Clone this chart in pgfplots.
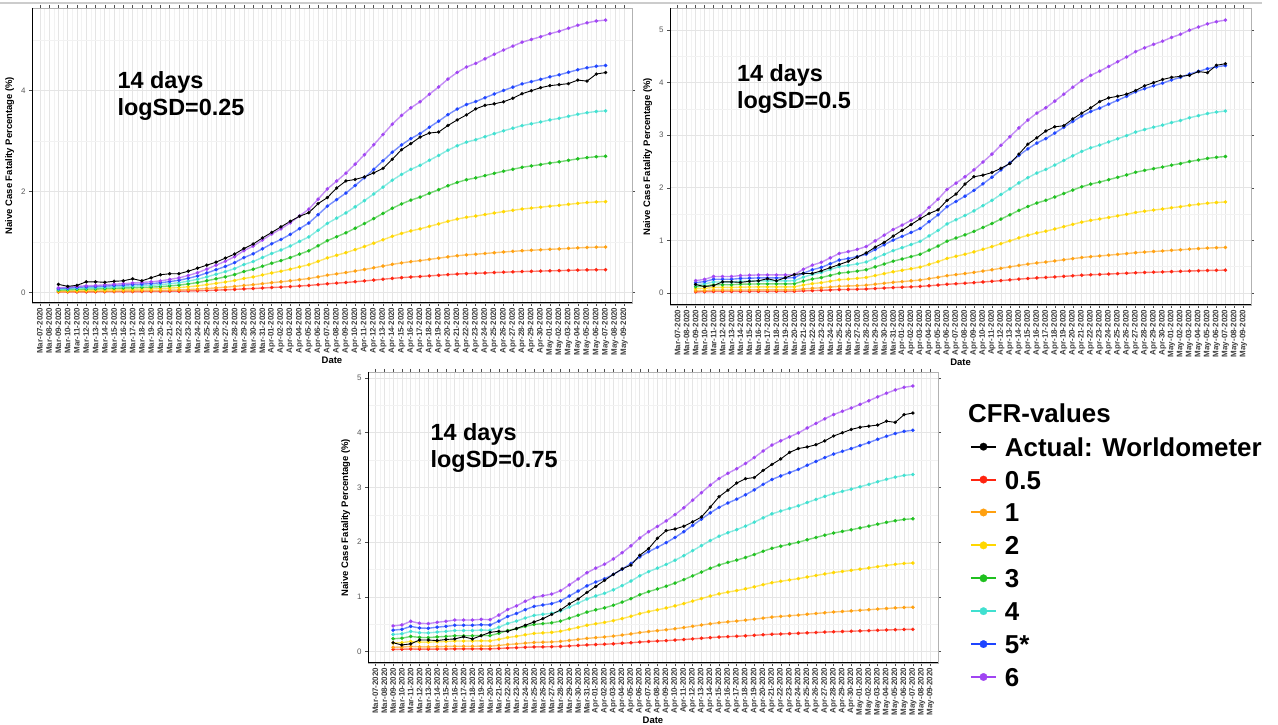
\documentclass[border=0pt]{standalone}
\usepackage{fontspec}
\setmainfont{Liberation Sans}
\usepackage{pgfplots}
\usepackage{pgfplotstable}
\pgfplotsset{compat=1.18}

\definecolor{cred}{HTML}{FF2410}
\definecolor{corange}{HTML}{FFA010}
\definecolor{cgold}{HTML}{FFD700}
\definecolor{cgreen}{HTML}{1FC01F}
\definecolor{cturq}{HTML}{40E0D0}
\definecolor{cblue}{HTML}{1E44FF}
\definecolor{cpurple}{HTML}{A044F2}

\newcommand\tickfont{\fontsize{8}{9.6}\selectfont}
\newcommand\labfont{\fontsize{9.5}{11}\selectfont\bfseries}
\newcommand\annfont{\fontsize{23.5}{27.5}\selectfont\bfseries}
\newcommand\legfont{\fontsize{26}{30}\selectfont\bfseries}

% actual CFR (Worldometer), same in every panel; x = days after Mar-07
\pgfplotstableread{
x a
2 0.16
3 0.12
4 0.14
5 0.21
6 0.21
7 0.20
8 0.22
9 0.23
10 0.27
11 0.23
12 0.29
13 0.35
14 0.37
15 0.37
16 0.42
17 0.48
18 0.54
19 0.60
20 0.68
21 0.76
22 0.87
23 0.96
24 1.08
25 1.19
26 1.30
27 1.41
28 1.51
29 1.58
30 1.76
31 1.88
32 2.07
33 2.21
34 2.24
35 2.29
36 2.37
37 2.46
38 2.64
39 2.83
40 2.95
41 3.08
42 3.16
43 3.18
44 3.31
45 3.42
46 3.52
47 3.64
48 3.71
49 3.74
50 3.78
51 3.85
52 3.94
53 4.00
54 4.06
55 4.10
56 4.12
57 4.14
58 4.21
59 4.19
60 4.33
61 4.36
}\actual

% logSD = 0.25
\pgfplotstableread{
x r o y g c b p
2 0.008 0.015 0.030 0.045 0.060 0.075 0.090
3 0.009 0.017 0.034 0.051 0.068 0.085 0.102
4 0.010 0.020 0.040 0.060 0.080 0.100 0.120
5 0.011 0.022 0.044 0.066 0.088 0.110 0.132
6 0.012 0.023 0.046 0.069 0.092 0.115 0.138
7 0.013 0.025 0.050 0.075 0.100 0.125 0.150
8 0.014 0.027 0.054 0.081 0.108 0.135 0.162
9 0.015 0.029 0.058 0.087 0.116 0.145 0.174
10 0.016 0.031 0.062 0.093 0.124 0.155 0.186
11 0.017 0.033 0.066 0.099 0.132 0.165 0.198
12 0.018 0.035 0.070 0.105 0.140 0.175 0.210
13 0.019 0.038 0.076 0.114 0.152 0.190 0.228
14 0.022 0.043 0.086 0.129 0.172 0.215 0.258
15 0.024 0.048 0.096 0.144 0.192 0.240 0.288
16 0.028 0.056 0.112 0.168 0.224 0.280 0.336
17 0.033 0.065 0.130 0.195 0.260 0.325 0.390
18 0.039 0.077 0.154 0.231 0.308 0.385 0.462
19 0.045 0.090 0.180 0.270 0.360 0.450 0.540
20 0.052 0.103 0.206 0.309 0.412 0.515 0.618
21 0.059 0.118 0.236 0.354 0.472 0.590 0.708
22 0.069 0.138 0.276 0.414 0.552 0.690 0.828
23 0.077 0.153 0.306 0.459 0.612 0.765 0.918
24 0.087 0.173 0.346 0.519 0.692 0.865 1.038
25 0.097 0.193 0.386 0.579 0.772 0.965 1.158
26 0.105 0.210 0.420 0.630 0.840 1.050 1.260
27 0.115 0.230 0.460 0.690 0.920 1.150 1.380
28 0.127 0.253 0.506 0.759 1.012 1.265 1.518
29 0.138 0.275 0.550 0.825 1.100 1.375 1.650
30 0.154 0.308 0.616 0.924 1.232 1.540 1.848
31 0.171 0.342 0.684 1.026 1.368 1.710 2.052
32 0.184 0.368 0.736 1.104 1.472 1.840 2.208
33 0.197 0.394 0.788 1.182 1.576 1.970 2.364
34 0.212 0.424 0.848 1.272 1.696 2.120 2.544
35 0.228 0.455 0.910 1.365 1.820 2.275 2.730
36 0.244 0.488 0.976 1.464 1.952 2.440 2.928
37 0.261 0.522 1.044 1.566 2.088 2.610 3.132
38 0.278 0.556 1.112 1.668 2.224 2.780 3.336
39 0.293 0.585 1.170 1.755 2.340 2.925 3.510
40 0.305 0.610 1.220 1.830 2.440 3.050 3.660
41 0.315 0.630 1.260 1.890 2.520 3.150 3.780
42 0.328 0.655 1.310 1.965 2.620 3.275 3.930
43 0.340 0.679 1.358 2.037 2.716 3.395 4.074
44 0.353 0.705 1.410 2.115 2.820 3.525 4.230
45 0.364 0.727 1.454 2.181 2.908 3.635 4.362
46 0.373 0.745 1.490 2.235 2.980 3.725 4.470
47 0.379 0.757 1.514 2.271 3.028 3.785 4.542
48 0.386 0.772 1.544 2.316 3.088 3.860 4.632
49 0.394 0.787 1.574 2.361 3.148 3.935 4.722
50 0.401 0.801 1.602 2.403 3.204 4.005 4.806
51 0.407 0.814 1.628 2.442 3.256 4.070 4.884
52 0.414 0.827 1.654 2.481 3.308 4.135 4.962
53 0.418 0.836 1.672 2.508 3.344 4.180 5.016
54 0.423 0.845 1.690 2.535 3.380 4.225 5.070
55 0.428 0.855 1.710 2.565 3.420 4.275 5.130
56 0.432 0.863 1.726 2.589 3.452 4.315 5.178
57 0.437 0.873 1.746 2.619 3.492 4.365 5.238
58 0.442 0.883 1.766 2.649 3.532 4.415 5.298
59 0.446 0.891 1.782 2.673 3.564 4.455 5.346
60 0.449 0.897 1.794 2.691 3.588 4.485 5.382
61 0.450 0.900 1.800 2.700 3.600 4.500 5.400
}\tabA

% logSD = 0.5
\pgfplotstableread{
x r o y g c b p
2 0.020 0.039 0.078 0.117 0.156 0.195 0.234
3 0.022 0.043 0.086 0.129 0.172 0.215 0.258
4 0.026 0.052 0.104 0.156 0.208 0.260 0.312
5 0.026 0.052 0.104 0.156 0.208 0.260 0.312
6 0.026 0.052 0.104 0.156 0.208 0.260 0.312
7 0.028 0.055 0.110 0.165 0.220 0.275 0.330
8 0.028 0.056 0.112 0.168 0.224 0.280 0.336
9 0.029 0.057 0.114 0.171 0.228 0.285 0.342
10 0.029 0.057 0.114 0.171 0.228 0.285 0.342
11 0.029 0.057 0.114 0.171 0.228 0.285 0.342
12 0.029 0.057 0.114 0.171 0.228 0.285 0.342
13 0.029 0.058 0.116 0.174 0.232 0.290 0.348
14 0.038 0.075 0.150 0.225 0.300 0.375 0.450
15 0.044 0.088 0.176 0.264 0.352 0.440 0.528
16 0.049 0.097 0.194 0.291 0.388 0.485 0.582
17 0.056 0.111 0.222 0.333 0.444 0.555 0.666
18 0.063 0.125 0.250 0.375 0.500 0.625 0.750
19 0.066 0.131 0.262 0.393 0.524 0.655 0.786
20 0.069 0.138 0.276 0.414 0.552 0.690 0.828
21 0.074 0.147 0.294 0.441 0.588 0.735 0.882
22 0.083 0.165 0.330 0.495 0.660 0.825 0.990
23 0.092 0.183 0.366 0.549 0.732 0.915 1.098
24 0.101 0.201 0.402 0.603 0.804 1.005 1.206
25 0.108 0.215 0.430 0.645 0.860 1.075 1.290
26 0.115 0.230 0.460 0.690 0.920 1.150 1.380
27 0.123 0.245 0.490 0.735 0.980 1.225 1.470
28 0.136 0.271 0.542 0.813 1.084 1.355 1.626
29 0.149 0.297 0.594 0.891 1.188 1.485 1.782
30 0.164 0.328 0.656 0.984 1.312 1.640 1.968
31 0.174 0.348 0.696 1.044 1.392 1.740 2.088
32 0.184 0.368 0.736 1.104 1.472 1.840 2.208
33 0.195 0.390 0.780 1.170 1.560 1.950 2.340
34 0.208 0.415 0.830 1.245 1.660 2.075 2.490
35 0.220 0.440 0.880 1.320 1.760 2.200 2.640
36 0.234 0.468 0.936 1.404 1.872 2.340 2.808
37 0.248 0.495 0.990 1.485 1.980 2.475 2.970
38 0.262 0.523 1.046 1.569 2.092 2.615 3.138
39 0.274 0.548 1.096 1.644 2.192 2.740 3.288
40 0.285 0.570 1.140 1.710 2.280 2.850 3.420
41 0.294 0.587 1.174 1.761 2.348 2.935 3.522
42 0.304 0.608 1.216 1.824 2.432 3.040 3.648
43 0.315 0.630 1.260 1.890 2.520 3.150 3.780
44 0.326 0.652 1.304 1.956 2.608 3.260 3.912
45 0.337 0.673 1.346 2.019 2.692 3.365 4.038
46 0.345 0.690 1.380 2.070 2.760 3.450 4.140
47 0.352 0.703 1.406 2.109 2.812 3.515 4.218
48 0.359 0.718 1.436 2.154 2.872 3.590 4.308
49 0.367 0.733 1.466 2.199 2.932 3.665 4.398
50 0.374 0.748 1.496 2.244 2.992 3.740 4.488
51 0.383 0.765 1.530 2.295 3.060 3.825 4.590
52 0.389 0.777 1.554 2.331 3.108 3.885 4.662
53 0.394 0.788 1.576 2.364 3.152 3.940 4.728
54 0.399 0.798 1.596 2.394 3.192 3.990 4.788
55 0.405 0.810 1.620 2.430 3.240 4.050 4.860
56 0.410 0.820 1.640 2.460 3.280 4.100 4.920
57 0.417 0.833 1.666 2.499 3.332 4.165 4.998
58 0.422 0.843 1.686 2.529 3.372 4.215 5.058
59 0.427 0.853 1.706 2.559 3.412 4.265 5.118
60 0.430 0.860 1.720 2.580 3.440 4.300 5.160
61 0.433 0.865 1.730 2.595 3.460 4.325 5.190
}\tabB

% logSD = 0.75
\pgfplotstableread{
x r o y g c b p
2 0.039 0.078 0.156 0.234 0.312 0.390 0.468
3 0.041 0.081 0.162 0.243 0.324 0.405 0.486
4 0.046 0.092 0.184 0.276 0.368 0.460 0.552
5 0.043 0.086 0.172 0.258 0.344 0.430 0.516
6 0.043 0.085 0.170 0.255 0.340 0.425 0.510
7 0.045 0.089 0.178 0.267 0.356 0.445 0.534
8 0.046 0.092 0.184 0.276 0.368 0.460 0.552
9 0.048 0.096 0.192 0.288 0.384 0.480 0.576
10 0.048 0.096 0.192 0.288 0.384 0.480 0.576
11 0.048 0.096 0.192 0.288 0.384 0.480 0.576
12 0.049 0.098 0.196 0.294 0.392 0.490 0.588
13 0.049 0.097 0.194 0.291 0.388 0.485 0.582
14 0.056 0.111 0.222 0.333 0.444 0.555 0.666
15 0.064 0.128 0.256 0.384 0.512 0.640 0.768
16 0.070 0.139 0.278 0.417 0.556 0.695 0.834
17 0.077 0.153 0.306 0.459 0.612 0.765 0.918
18 0.083 0.165 0.330 0.495 0.660 0.825 0.990
19 0.085 0.170 0.340 0.510 0.680 0.850 1.020
20 0.088 0.175 0.350 0.525 0.700 0.875 1.050
21 0.093 0.185 0.370 0.555 0.740 0.925 1.110
22 0.102 0.203 0.406 0.609 0.812 1.015 1.218
23 0.111 0.221 0.442 0.663 0.884 1.105 1.326
24 0.120 0.240 0.480 0.720 0.960 1.200 1.440
25 0.127 0.254 0.508 0.762 1.016 1.270 1.524
26 0.133 0.266 0.532 0.798 1.064 1.330 1.596
27 0.141 0.282 0.564 0.846 1.128 1.410 1.692
28 0.151 0.301 0.602 0.903 1.204 1.505 1.806
29 0.161 0.322 0.644 0.966 1.288 1.610 1.932
30 0.173 0.346 0.692 1.038 1.384 1.730 2.076
31 0.183 0.365 0.730 1.095 1.460 1.825 2.190
32 0.191 0.381 0.762 1.143 1.524 1.905 2.286
33 0.199 0.398 0.796 1.194 1.592 1.990 2.388
34 0.209 0.417 0.834 1.251 1.668 2.085 2.502
35 0.219 0.438 0.876 1.314 1.752 2.190 2.628
36 0.231 0.461 0.922 1.383 1.844 2.305 2.766
37 0.242 0.484 0.968 1.452 1.936 2.420 2.904
38 0.254 0.507 1.014 1.521 2.028 2.535 3.042
39 0.264 0.527 1.054 1.581 2.108 2.635 3.162
40 0.272 0.543 1.086 1.629 2.172 2.715 3.258
41 0.279 0.557 1.114 1.671 2.228 2.785 3.342
42 0.287 0.573 1.146 1.719 2.292 2.865 3.438
43 0.296 0.591 1.182 1.773 2.364 2.955 3.546
44 0.306 0.611 1.222 1.833 2.444 3.055 3.666
45 0.315 0.629 1.258 1.887 2.516 3.145 3.774
46 0.321 0.642 1.284 1.926 2.568 3.210 3.852
47 0.327 0.654 1.308 1.962 2.616 3.270 3.924
48 0.333 0.666 1.332 1.998 2.664 3.330 3.996
49 0.341 0.681 1.362 2.043 2.724 3.405 4.086
50 0.348 0.695 1.390 2.085 2.780 3.475 4.170
51 0.355 0.709 1.418 2.127 2.836 3.545 4.254
52 0.361 0.722 1.444 2.166 2.888 3.610 4.332
53 0.366 0.732 1.464 2.196 2.928 3.660 4.392
54 0.371 0.742 1.484 2.226 2.968 3.710 4.452
55 0.377 0.753 1.506 2.259 3.012 3.765 4.518
56 0.382 0.764 1.528 2.292 3.056 3.820 4.584
57 0.388 0.776 1.552 2.328 3.104 3.880 4.656
58 0.394 0.787 1.574 2.361 3.148 3.935 4.722
59 0.399 0.797 1.594 2.391 3.188 3.985 4.782
60 0.403 0.805 1.610 2.415 3.220 4.025 4.830
61 0.405 0.809 1.618 2.427 3.236 4.045 4.854
}\tabC

\pgfplotsset{
  ser/.style={color=#1, mark=*, mark size=1.7bp, line width=1.4bp, draw opacity=0.6,
    mark options={solid, draw opacity=1, fill opacity=1, line width=0.2bp}},
  sblack/.style={color=black, mark=*, mark size=1.6bp, line width=0.9bp,
    mark options={solid, line width=0.2bp}},
  dates/.style={xticklabels={Mar-07-2020,Mar-08-2020,Mar-09-2020,Mar-10-2020,Mar-11-2020,Mar-12-2020,Mar-13-2020,Mar-14-2020,Mar-15-2020,Mar-16-2020,Mar-17-2020,Mar-18-2020,Mar-19-2020,Mar-20-2020,Mar-21-2020,Mar-22-2020,Mar-23-2020,Mar-24-2020,Mar-25-2020,Mar-26-2020,Mar-27-2020,Mar-28-2020,Mar-29-2020,Mar-30-2020,Mar-31-2020,Apr-01-2020,Apr-02-2020,Apr-03-2020,Apr-04-2020,Apr-05-2020,Apr-06-2020,Apr-07-2020,Apr-08-2020,Apr-09-2020,Apr-10-2020,Apr-11-2020,Apr-12-2020,Apr-13-2020,Apr-14-2020,Apr-15-2020,Apr-16-2020,Apr-17-2020,Apr-18-2020,Apr-19-2020,Apr-20-2020,Apr-21-2020,Apr-22-2020,Apr-23-2020,Apr-24-2020,Apr-25-2020,Apr-26-2020,Apr-27-2020,Apr-28-2020,Apr-29-2020,Apr-30-2020,May-01-2020,May-02-2020,May-03-2020,May-04-2020,May-05-2020,May-06-2020,May-07-2020,May-08-2020,May-09-2020}},
  panel/.style={
    scale only axis, anchor=south west,
    xmin=-0.85, xmax=63.85,
    xtick={0,...,63}, dates,
    minor x tick num=1,
    grid=both,
    major grid style={draw=black!10, line width=0.6bp},
    minor grid style={draw=black!5, line width=0.4bp},
    axis line style={draw=black!30, line width=0.8bp},
    tick align=outside,
    major tick length=3bp, minor tick length=0pt,
    tick style={black!70, line width=0.5bp},
    xticklabel style={rotate=90, anchor=east, font=\tickfont\bfseries, text=black!75, inner sep=1.5bp},
    yticklabel style={font=\tickfont, text=black!65},
    /pgf/number format/assume math mode=true,
    xlabel={Date}, ylabel={Naive Case Fatality Percentage (\%)},
    label style={font=\labfont},
    xlabel style={yshift=3bp},
  },
}
\tikzset{ann/.style={anchor=west, align=left, font=\annfont, inner sep=0pt}}

\begin{document}
\begin{tikzpicture}
\useasboundingbox (0bp,0bp) rectangle (1278bp,725bp);
\draw[black!20, line width=1.5bp] (0bp,722bp) -- (1262bp,722bp);

% panel 1
\begin{axis}[panel, at={(32bp,422bp)}, width=600bp, height=295bp,
  ymin=-0.21, ymax=5.64, ytick={0,2,4}, minor ytick={1,3,5}]
\addplot[ser=cred] table[x=x,y=r]{\tabA};
\addplot[ser=corange] table[x=x,y=o]{\tabA};
\addplot[ser=cgold] table[x=x,y=y]{\tabA};
\addplot[ser=cgreen] table[x=x,y=g]{\tabA};
\addplot[ser=cturq] table[x=x,y=c]{\tabA};
\addplot[ser=cblue] table[x=x,y=b]{\tabA};
\addplot[ser=cpurple] table[x=x,y=p]{\tabA};
\addplot[sblack] table[x=x,y=a]{\actual};
\node[ann] at (axis cs:8.36,3.89) {14 days\\logSD=0.25};
\end{axis}
\draw[black, line width=1bp] (32bp,717bp) -- (32bp,422bp) -- (632bp,422bp);

% panel 2
\begin{axis}[panel, at={(670bp,420bp)}, width=581bp, height=297bp,
  ymin=-0.23, ymax=5.42, ytick={0,...,5}, minor ytick={0.5,1.5,2.5,3.5,4.5}]
\addplot[ser=cred] table[x=x,y=r]{\tabB};
\addplot[ser=corange] table[x=x,y=o]{\tabB};
\addplot[ser=cgold] table[x=x,y=y]{\tabB};
\addplot[ser=cgreen] table[x=x,y=g]{\tabB};
\addplot[ser=cturq] table[x=x,y=c]{\tabB};
\addplot[ser=cblue] table[x=x,y=b]{\tabB};
\addplot[ser=cpurple] table[x=x,y=p]{\tabB};
\addplot[sblack] table[x=x,y=a]{\actual};
\node[ann] at (axis cs:6.59,3.88) {14 days\\logSD=0.5};
\end{axis}
\draw[black, line width=1bp] (670bp,717bp) -- (670bp,420bp) -- (1251bp,420bp);

% panel 3 with legend
\begin{axis}[panel, at={(368bp,62bp)}, width=570bp, height=291bp,
  ymin=-0.21, ymax=5.11, ytick={0,...,5}, minor ytick={0.5,1.5,2.5,3.5,4.5},
  legend style={at={(1.0561,0.776)}, anchor=north west, draw=none, fill=none,
    inner sep=0pt, outer sep=0pt, row sep=13.9bp, column sep=8bp, font=\legfont,
    nodes={inner sep=0pt, text height=19bp, text depth=0bp}},
  legend cell align=left,
  legend image code/.code={\draw[mark repeat=2, mark phase=2, #1] plot coordinates {(0bp,0bp) (12.5bp,0bp) (25bp,0bp)};},
  legend image post style={line width=2bp, draw opacity=1, mark size=3.8bp}]
\addlegendimage{sblack}\addlegendentry{Actual: Worldometer}
\addlegendimage{ser=cred}\addlegendentry{0.5}
\addlegendimage{ser=corange}\addlegendentry{1}
\addlegendimage{ser=cgold}\addlegendentry{2}
\addlegendimage{ser=cgreen}\addlegendentry{3}
\addlegendimage{ser=cturq}\addlegendentry{4}
\addlegendimage{ser=cblue}\addlegendentry{5*}
\addlegendimage{ser=cpurple}\addlegendentry{6}
\addplot[ser=cred, forget plot] table[x=x,y=r]{\tabC};
\addplot[ser=corange, forget plot] table[x=x,y=o]{\tabC};
\addplot[ser=cgold, forget plot] table[x=x,y=y]{\tabC};
\addplot[ser=cgreen, forget plot] table[x=x,y=g]{\tabC};
\addplot[ser=cturq, forget plot] table[x=x,y=c]{\tabC};
\addplot[ser=cblue, forget plot] table[x=x,y=b]{\tabC};
\addplot[ser=cpurple, forget plot] table[x=x,y=p]{\tabC};
\addplot[sblack, forget plot] table[x=x,y=a]{\actual};
\node[ann] at (axis cs:6.24,3.72) {14 days\\logSD=0.75};
\end{axis}
\draw[black, line width=1bp] (368bp,353bp) -- (368bp,62bp) -- (938bp,62bp);
\node[anchor=west, font=\legfont, inner sep=0pt] at (968bp,312bp) {CFR-values};
\end{tikzpicture}
\end{document}
